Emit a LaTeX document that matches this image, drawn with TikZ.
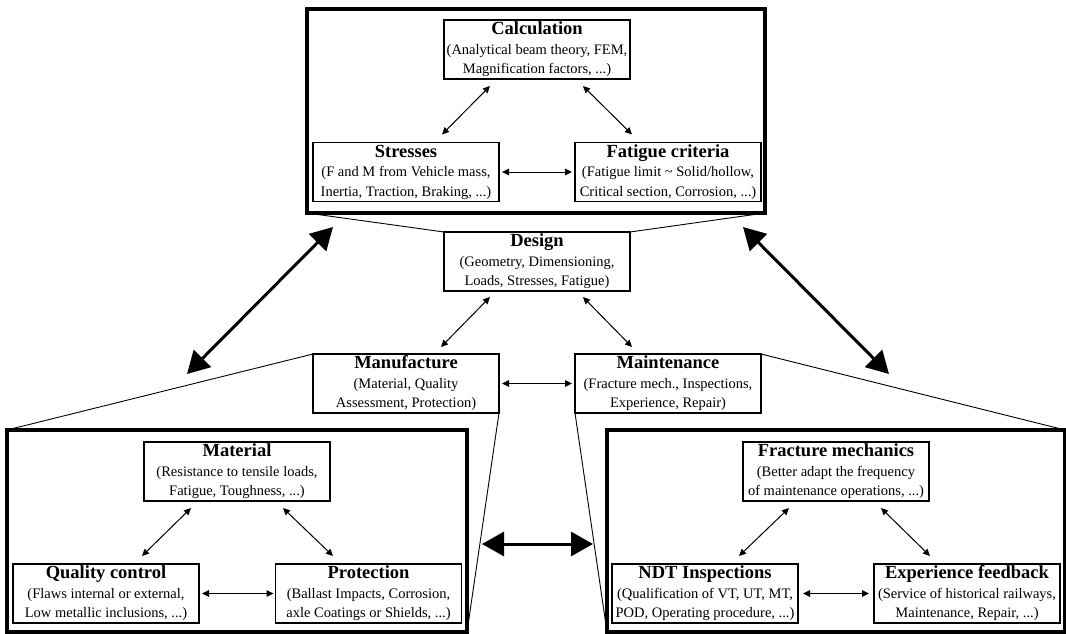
\documentclass[tikz,border=0pt]{standalone}
\usepackage{fontspec}
\setmainfont{Liberation Serif}
\usetikzlibrary{arrows.meta}
\newcommand\boxtitle[1]{{\fontsize{18.5}{19.5}\selectfont\bfseries #1}}
\begin{document}
\begin{tikzpicture}[x=1pt,y=-1pt,
  box/.style={draw, line width=1.8pt, minimum width=186pt, minimum height=59pt,
    inner sep=0pt, outer sep=0pt, align=center, font=\fontsize{14.5}{19.5}\selectfont},
  bigbox/.style={draw, line width=3.2pt, inner sep=0pt, outer sep=0pt},
  conn/.style={line width=0.9pt},
  sarrow/.style={line width=1pt, {Triangle[length=7pt,width=6.5pt]}-{Triangle[length=7pt,width=6.5pt]}},
  barrow/.style={line width=3pt, {Triangle[length=22pt,width=24pt]}-{Triangle[length=22pt,width=24pt]}},
]
\useasboundingbox (0,0) rectangle (1066,634);

% big frames
\node[bigbox, minimum width=458pt, minimum height=204pt] (topbox) at (536,111) {};
\node[bigbox, minimum width=460pt, minimum height=202pt] (blbox) at (237,531) {};
\node[bigbox, minimum width=458pt, minimum height=202pt] (brbox) at (836,531) {};

% top group
\node[box] (calc) at (537,49.5) {\boxtitle{Calculation}\\(Analytical beam theory, FEM,\\Magnification factors, ...)};
\node[box] (stress) at (406,172) {\boxtitle{Stresses}\\(F and M from Vehicle mass,\\Inertia, Traction, Braking, ...)};
\node[box] (fatig) at (668,172) {\boxtitle{Fatigue criteria}\\(Fatigue limit \textasciitilde{} Solid/hollow,\\Critical section, Corrosion, ...)};

% middle
\node[box] (design) at (537,261.5) {\boxtitle{Design}\\(Geometry, Dimensioning,\\Loads, Stresses, Fatigue)};
\node[box] (manuf) at (406,383.5) {\boxtitle{Manufacture}\\(Material, Quality\\Assessment, Protection)};
\node[box] (maint) at (668,383.5) {\boxtitle{Maintenance}\\(Fracture mech., Inspections,\\Experience, Repair)};

% bottom left group
\node[box] (material) at (237,471.5) {\boxtitle{Material}\\(Resistance to tensile loads,\\Fatigue, Toughness, ...)};
\node[box] (qc) at (106,593.5) {\boxtitle{Quality control}\\(Flaws internal or external,\\Low metallic inclusions, ...)};
\node[box] (prot) at (368.5,593.5) {\boxtitle{Protection}\\(Ballast Impacts, Corrosion,\\axle Coatings or Shields, ...)};

% bottom right group
\node[box] (fm) at (836,471.5) {\boxtitle{Fracture mechanics}\\(Better adapt the frequency\\of maintenance operations, ...)};
\node[box] (ndt) at (705,593.5) {\boxtitle{NDT Inspections}\\(Qualification of VT, UT, MT,\\POD, Operating procedure, ...)};
\node[box] (ef) at (967,593.5) {\boxtitle{Experience feedback}\\(Service of historical railways,\\Maintenance, Repair, ...)};

% zoom lines
\draw[conn] (topbox.south west) -- (design.north west);
\draw[conn] (topbox.south east) -- (design.north east);
\draw[conn] (manuf.north west) -- (blbox.north west);
\draw[conn] (manuf.south east) -- (blbox.south east);
\draw[conn] (maint.north east) -- (brbox.north east);
\draw[conn] (maint.south west) -- (brbox.south west);

% small arrows
\draw[sarrow] ([xshift=36pt,yshift=8pt]stress.north) -- ([xshift=-47pt,yshift=-7pt]calc.south);
\draw[sarrow] ([xshift=46pt,yshift=-7pt]calc.south) -- ([xshift=-36pt,yshift=8pt]fatig.north);
\draw[sarrow] ([xshift=3pt]stress.east) -- ([xshift=-3pt]fatig.west);

\draw[sarrow] ([xshift=35pt,yshift=7pt]manuf.north) -- ([xshift=-47pt,yshift=-6pt]design.south);
\draw[sarrow] ([xshift=46pt,yshift=-6pt]design.south) -- ([xshift=-36pt,yshift=7pt]maint.north);
\draw[sarrow] ([xshift=3pt]manuf.east) -- ([xshift=-3pt]maint.west);

\draw[sarrow] ([xshift=36pt,yshift=8pt]qc.north) -- ([xshift=-46pt,yshift=-7pt]material.south);
\draw[sarrow] ([xshift=46pt,yshift=-7pt]material.south) -- ([xshift=-35.5pt,yshift=8pt]prot.north);
\draw[sarrow] ([xshift=3pt]qc.east) -- ([xshift=-2pt]prot.west);

\draw[sarrow] ([xshift=34pt,yshift=8pt]ndt.north) -- ([xshift=-47pt,yshift=-7pt]fm.south);
\draw[sarrow] ([xshift=45pt,yshift=-7pt]fm.south) -- ([xshift=-37pt,yshift=8pt]ef.north);
\draw[sarrow] ([xshift=5pt]ndt.east) -- ([xshift=-5pt]ef.west);

% big arrows
\draw[barrow] ([xshift=180pt,yshift=56pt]blbox.north west) -- ([xshift=26pt,yshift=-14pt]topbox.south west);
\draw[barrow] ([xshift=-22pt,yshift=-14pt]topbox.south east) -- ([xshift=-176pt,yshift=56pt]brbox.north east);
\draw[barrow] ([xshift=15pt,yshift=-13pt]blbox.east) -- ([xshift=-14pt,yshift=-13pt]brbox.west);
\end{tikzpicture}
\end{document}
